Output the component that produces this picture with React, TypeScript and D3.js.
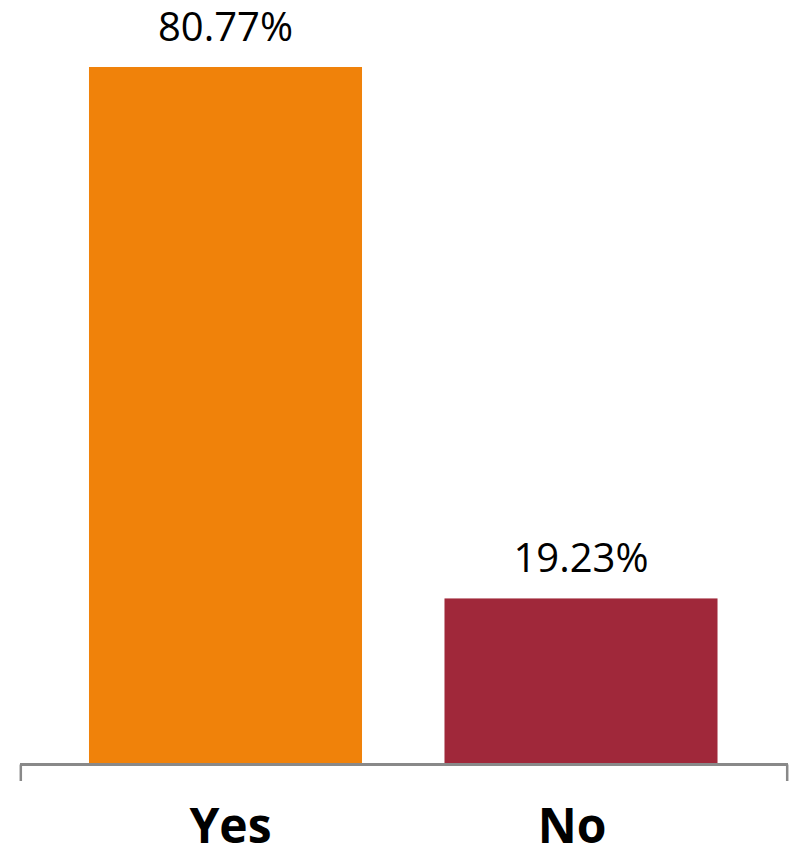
import React from "react";
import * as d3 from "d3";

const categories = ["Yes", "No"];
const values = [80.77, 19.23];
const valueLabels = ["80.77%", "19.23%"];
const colors = ["#F0820A", "#A0283A"];
const labelNudge = [5, -9];

const W = 797;
const H = 849;
const baseY = 764.5;

export default function App() {
  const x = d3
    .scaleBand<string>()
    .domain(categories)
    .range([48.1, 758.4])
    .paddingInner(0.232)
    .paddingOuter(0.115);
  const y = d3.scaleLinear().domain([0, 80.77]).range([baseY, 67]);
  const bw = x.bandwidth();
  const font = "'Open Sans', 'Liberation Sans', Arial, sans-serif";

  return (
    <svg
      width={W}
      height={H}
      style={{ position: "absolute", left: 0, top: 0, background: "#fff" }}
    >
      {categories.map((c, i) => (
        <g key={c}>
          <rect
            x={x(c)!}
            y={y(values[i])}
            width={bw}
            height={baseY - y(values[i])}
            fill={colors[i]}
          />
          <text
            x={x(c)! + bw / 2}
            y={y(values[i]) - 26}
            textAnchor="middle"
            fontFamily={font}
            fontSize={40}
            fill="#000"
          >
            {valueLabels[i]}
          </text>
          <text
            x={x(c)! + bw / 2 + labelNudge[i]}
            y={843}
            textAnchor="middle"
            fontFamily={font}
            fontSize={48}
            fontWeight="bold"
            fill="#000"
          >
            {c}
          </text>
        </g>
      ))}
      <line x1={20} x2={788} y1={baseY} y2={baseY} stroke="#898989" strokeWidth={3} />
      <line x1={20.8} x2={20.8} y1={baseY} y2={781} stroke="#898989" strokeWidth={2.5} />
      <line x1={787.2} x2={787.2} y1={baseY} y2={781} stroke="#898989" strokeWidth={2.5} />
    </svg>
  );
}
